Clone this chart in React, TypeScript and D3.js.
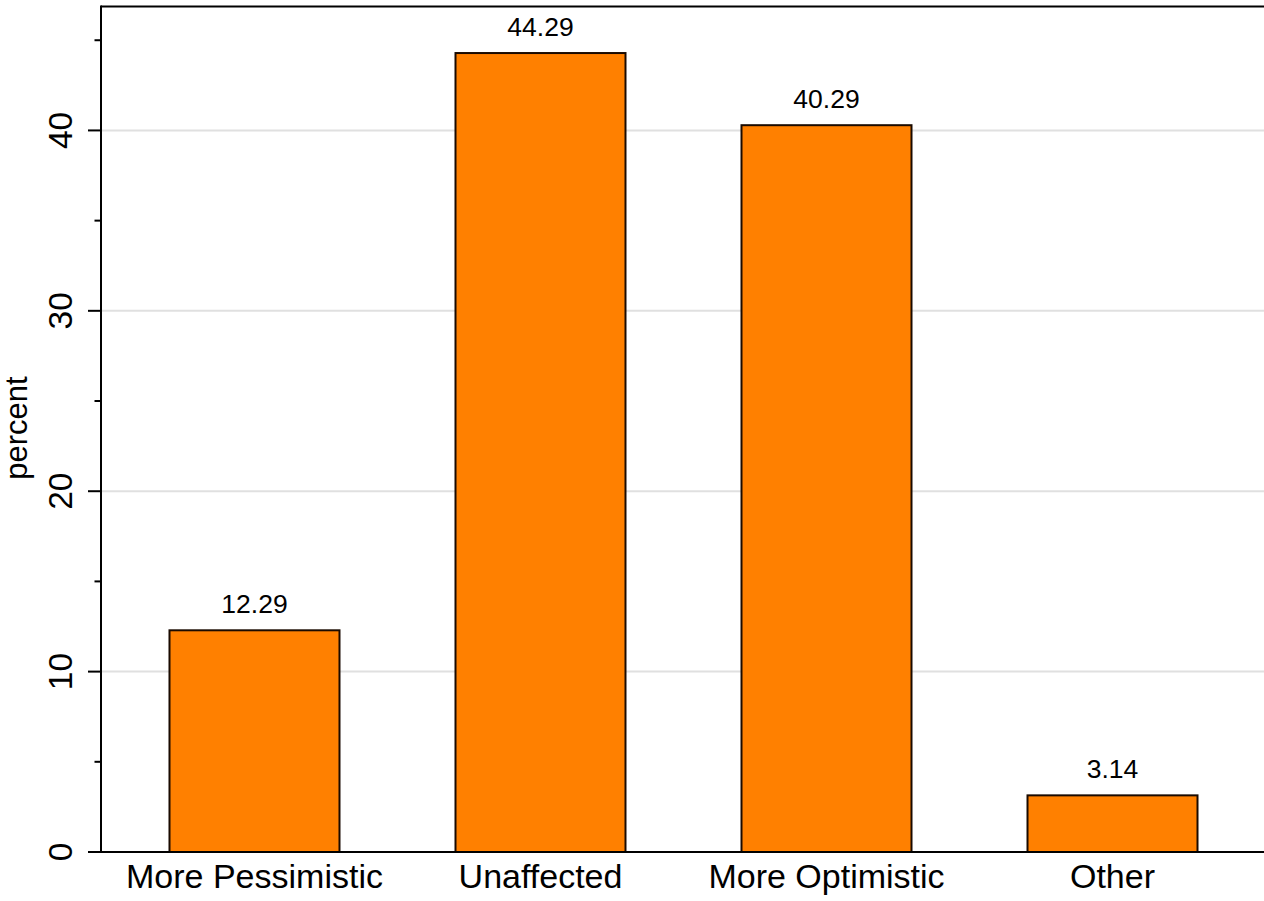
import React from "react";
import * as d3 from "d3";

const categories = ["More Pessimistic", "Unaffected", "More Optimistic", "Other"];
const values = [12.29, 44.29, 40.29, 3.14];
const majorTicks = [0, 10, 20, 30, 40];
const minorTicks = [5, 15, 25, 35, 45];

const W = 1264;
const H = 901;
const FONT = "'Liberation Sans', Arial, Helvetica, sans-serif";

export default function App() {
  const left = 101;
  const right = 1264;
  const top = 6.5;
  const bottom = 852;

  const x = d3
    .scaleBand<string>()
    .domain(categories)
    .range([104, 1263])
    .paddingInner(0.4056)
    .paddingOuter(0.229)
    .align(0.5);

  const y = d3.scaleLinear().domain([0, 46.87]).range([bottom, top]);

  return (
    <svg
      width={W}
      height={H}
      style={{ position: "absolute", left: 0, top: 0, display: "block", background: "#fff" }}
      fontFamily={FONT}
    >
      <rect x={0} y={0} width={W} height={H} fill="#fff" />
      {majorTicks
        .filter((t) => t > 0)
        .map((t) => (
          <line
            key={"g" + t}
            x1={left}
            x2={right}
            y1={y(t)}
            y2={y(t)}
            stroke="#e0e0e0"
            strokeWidth={2}
          />
        ))}
      <line x1={left} x2={right} y1={top} y2={top} stroke="#000" strokeWidth={2} />
      {categories.map((c, i) => (
        <rect
          key={c}
          x={x(c)}
          y={y(values[i])}
          width={x.bandwidth()}
          height={y(0) - y(values[i])}
          fill="#ff8000"
          stroke="#1a0a00"
          strokeWidth={2}
        />
      ))}
      {categories.map((c, i) => (
        <text
          key={"v" + c}
          x={(x(c) as number) + x.bandwidth() / 2}
          y={y(values[i]) - 17}
          textAnchor="middle"
          fontSize={26.5}
          fill="#000"
        >
          {values[i].toFixed(2)}
        </text>
      ))}
      <line x1={left} x2={left} y1={bottom} y2={top - 1} stroke="#000" strokeWidth={2} />
      {majorTicks.map((t) => (
        <g key={"t" + t}>
          <line x1={left - 13} x2={left} y1={y(t)} y2={y(t)} stroke="#000" strokeWidth={2} />
          <text
            transform={`translate(72,${y(t)}) rotate(-90)`}
            textAnchor="middle"
            fontSize={33.5}
            fill="#000"
          >
            {t}
          </text>
        </g>
      ))}
      {minorTicks.map((t) => (
        <line
          key={"m" + t}
          x1={left - 6.5}
          x2={left}
          y1={y(t)}
          y2={y(t)}
          stroke="#000"
          strokeWidth={2}
        />
      ))}
      <text
        transform={`translate(27,${428}) rotate(-90)`}
        textAnchor="middle"
        fontSize={31}
        fill="#000"
      >
        percent
      </text>
      <line x1={left - 13} x2={right} y1={bottom} y2={bottom} stroke="#000" strokeWidth={2} />
      {categories.map((c) => (
        <text
          key={"x" + c}
          x={(x(c) as number) + x.bandwidth() / 2}
          y={888}
          textAnchor="middle"
          fontSize={34}
          fill="#000"
        >
          {c}
        </text>
      ))}
    </svg>
  );
}
